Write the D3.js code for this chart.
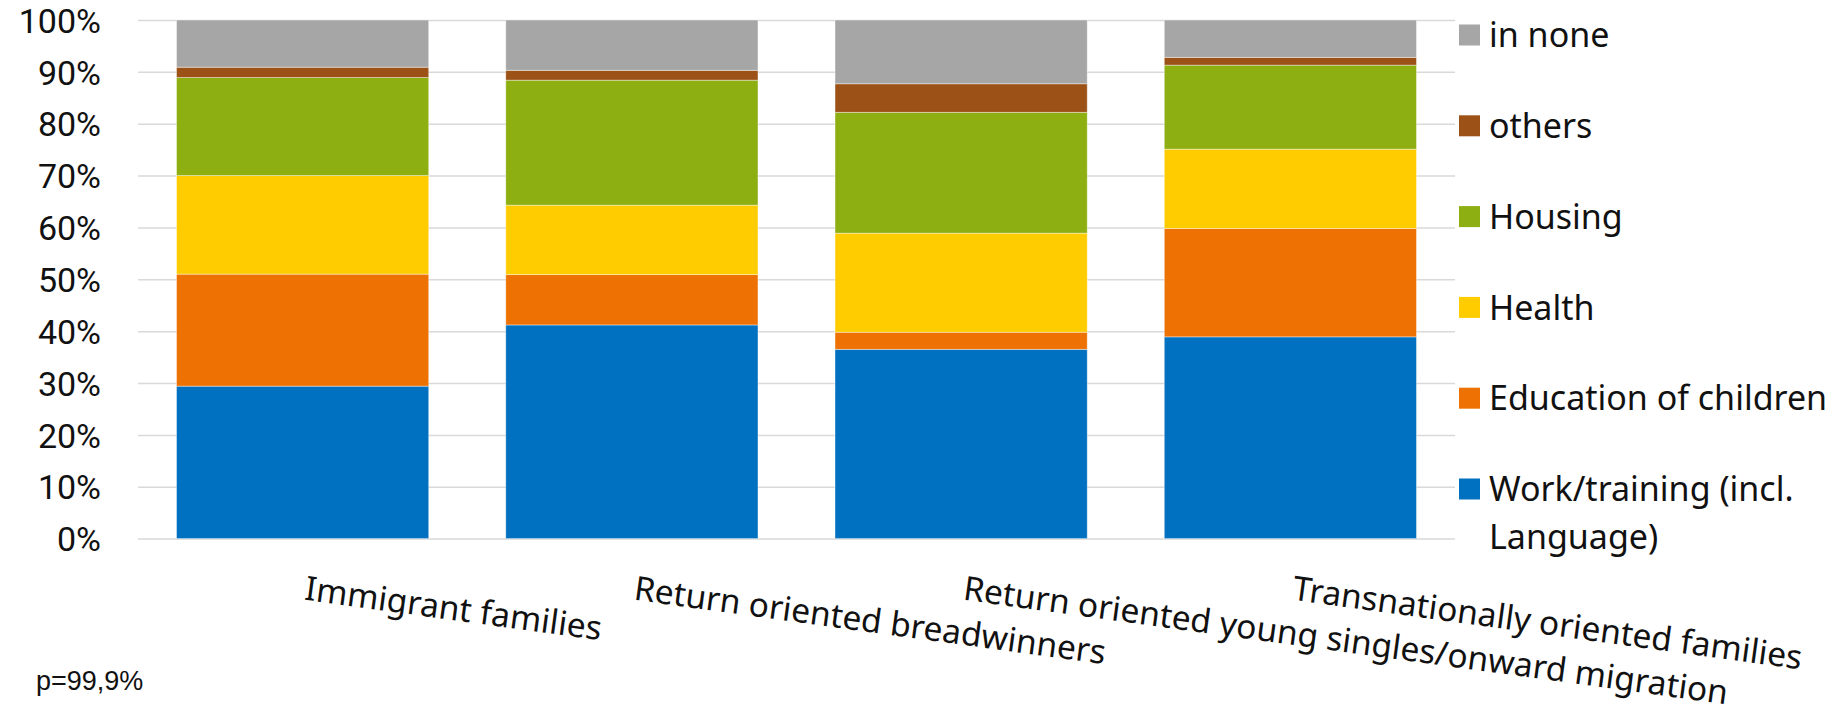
<!DOCTYPE html>
<html>
<head>
<meta charset="utf-8">
<script src="https://cdn.jsdelivr.net/npm/d3@7"></script>
<style>
  html, body { margin: 0; padding: 0; background: #ffffff; }
  #chart { width: 1844px; height: 713px; }
</style>
</head>
<body>
<div id="chart"></div>
<script>
// categories along the x axis
const categories = [
    "Immigrant families",
    "Return oriented breadwinners",
    "Return oriented young singles/onward migration",
    "Transnationally oriented families"
];

// series, bottom to top of each stack
const seriesNames = [
    "Work/training (incl. Language)",
    "Education of children",
    "Health",
    "Housing",
    "others",
    "in none"
];

// share of each series per category (percent)
const workTraining = [29.4, 41.2, 36.5, 38.9];
const education = [21.6, 9.7, 3.3, 20.9];
const health = [19.0, 13.4, 19.1, 15.3];
const housing = [18.9, 24.1, 23.3, 16.2];
const others = [2.0, 1.9, 5.5, 1.5];
const inNone = [9.1, 9.7, 12.3, 7.2];

const yTicks = [0, 0.1, 0.2, 0.3, 0.4, 0.5, 0.6, 0.7, 0.8, 0.9, 1];
const note = "p=99,9%";

class Chart {
    constructor() {
        const attrs = {
            container: "#chart",
            svgWidth: 1844,
            svgHeight: 713,
            plotLeft: 138,
            plotRight: 1455,
            plotTop: 20,
            plotBottom: 538.6,
            colors: ["#0070C0", "#EE7203", "#FFCC00", "#8DAF12", "#9C5217", "#A6A6A6"],
            gridColor: "#D9D9D9",
            textFill: "#111111",
            labelFont: "'Noto Sans', sans-serif",
            tickFont: "Roboto, sans-serif",
            data: null
        };
        this.getState = () => attrs;
        this.setState = (d) => Object.assign(attrs, d);
        this.initializeEnterExitUpdatePattern();
    }

    render() {
        this.calculateProperties();
        this.drawSvg();
        this.drawAxis();
        this.drawBars();
        this.drawCategoryLabels();
        this.drawLegend();
        this.drawNote();
        return this;
    }

    calculateProperties() {
        const { plotLeft, plotRight, plotTop, plotBottom } = this.getState();
        const values = [workTraining, education, health, housing, others, inNone];
        const rows = categories.map((c, i) => {
            const row = { category: c };
            seriesNames.forEach((s, j) => row[s] = values[j][i] / 100);
            return row;
        });
        const stacked = d3.stack().keys(seriesNames)(rows);

        const x = d3.scaleBand()
            .domain(categories)
            .range([plotLeft, plotRight])
            .paddingInner(0.234)
            .paddingOuter(0.117);
        const y = d3.scaleLinear()
            .domain([0, 1])
            .range([plotBottom, plotTop]);

        this.setState({ stacked, x, y });
    }

    drawSvg() {
        const { container, svgWidth, svgHeight } = this.getState();
        const svg = d3.select(container)
            ._add({ tag: "svg", className: "svg-chart-container" })
            .attr("width", svgWidth)
            .attr("height", svgHeight)
            .style("background-color", "#ffffff");
        const chart = svg._add({ tag: "g", className: "chart" });
        this.setState({ svg, chart });
    }

    drawAxis() {
        const { chart, y, plotLeft, plotRight, gridColor, tickFont, textFill } = this.getState();
        const axis = chart._add({ tag: "g", className: "y-axis" })
            .attr("transform", `translate(${plotLeft},0)`)
            .call(d3.axisLeft(y)
                .tickValues(yTicks)
                .tickFormat(d3.format(".0%"))
                .tickSize(-(plotRight - plotLeft))
                .tickPadding(37));
        axis.select(".domain").remove();
        axis.selectAll(".tick line")
            .attr("stroke", gridColor)
            .attr("stroke-width", 1.5);
        axis.selectAll(".tick text")
            .attr("fill", textFill)
            .attr("font-family", tickFont)
            .attr("font-size", 34)
            .attr("dy", "0.36em");
    }

    drawBars() {
        const { chart, stacked, x, y, colors } = this.getState();
        const layers = chart._add({ tag: "g", className: "layer", data: stacked })
            .attr("fill", (d, i) => colors[i]);
        layers.selectAll("rect")
            .data(d => d)
            .join("rect")
            .attr("x", d => x(d.data.category))
            .attr("width", x.bandwidth())
            .attr("y", d => y(d[1]))
            .attr("height", d => y(d[0]) - y(d[1]))
            .attr("stroke", "#ffffff")
            .attr("stroke-opacity", 0.5)
            .attr("stroke-width", 0.8);
    }

    drawCategoryLabels() {
        const { chart, x, plotBottom, labelFont, textFill } = this.getState();
        chart._add({ tag: "text", className: "cat-label", data: categories })
            .attr("transform", d => `translate(${x(d) + x.bandwidth() / 2 + 1},${plotBottom + 61}) rotate(7.8)`)
            .attr("text-anchor", "start")
            .attr("font-family", labelFont)
            .attr("font-size", 33.5)
            .attr("fill", textFill)
            .text(d => d);
    }

    drawLegend() {
        const { chart, colors, labelFont, textFill } = this.getState();
        const items = seriesNames.map((s, i) => ({ name: s, color: colors[i] })).reverse();
        const legendY = d3.scalePoint().domain(items.map(d => d.name)).range([35, 489]);
        const g = chart._add({ tag: "g", className: "legend-item", data: items })
            .attr("transform", d => `translate(1459,${legendY(d.name)})`);
        g._add({ tag: "rect", className: "legend-swatch", data: d => [d] })
            .attr("x", 0)
            .attr("y", -10.5)
            .attr("width", 21)
            .attr("height", 21)
            .attr("fill", d => d.color);
        const t = g._add({ tag: "text", className: "legend-text", data: d => [d] })
            .attr("x", 30)
            .attr("y", 0)
            .attr("font-family", labelFont)
            .attr("font-size", 34)
            .attr("fill", textFill);
        t.selectAll("tspan")
            .data(d => d.name === "Work/training (incl. Language)"
                ? ["Work/training (incl.", "Language)"] : [d.name])
            .join("tspan")
            .attr("x", 30)
            .attr("dy", (d, i) => i === 0 ? "0.36em" : "48")
            .text(d => d);
    }

    drawNote() {
        const { chart, textFill } = this.getState();
        chart._add({ tag: "text", className: "note" })
            .attr("x", 36)
            .attr("y", 690)
            .attr("font-family", "'Liberation Sans', Arial, sans-serif")
            .attr("font-size", 27)
            .attr("fill", textFill)
            .text(note);
    }

    initializeEnterExitUpdatePattern() {
        d3.selection.prototype._add = function (params) {
            const container = this;
            const className = params.className;
            const data = params.data || [className];
            let selection = container.selectAll("." + className).data(data);
            selection.exit().remove();
            selection = selection.enter().append(params.tag).merge(selection);
            selection.attr("class", className);
            return selection;
        };
    }
}

new Chart().render();
</script>
</body>
</html>
